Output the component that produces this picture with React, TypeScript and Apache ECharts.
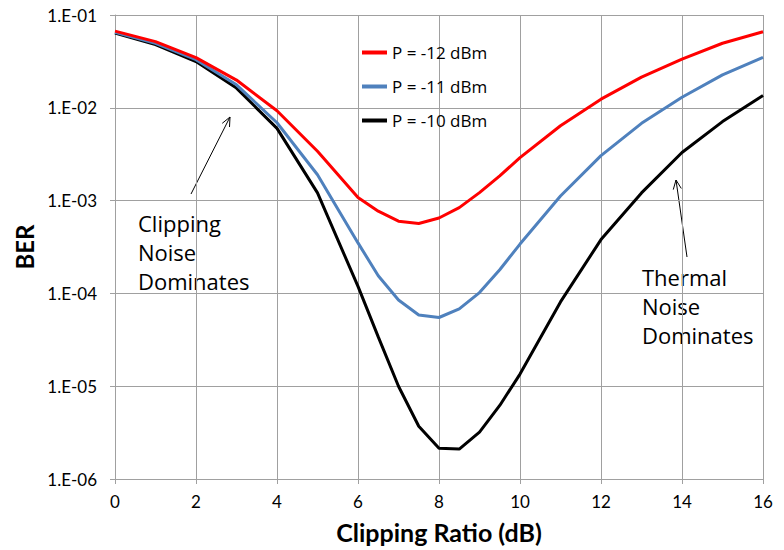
import React, { useEffect, useRef } from "react";
import * as echarts from "echarts";

const clippingRatio = [0, 1, 2, 3, 4, 5, 6, 6.5, 7, 7.5, 8, 8.5, 9, 9.5, 10, 11, 12, 13, 14, 15, 16];
const berM12 = [0.067, 0.0516, 0.0347, 0.0199, 0.0093, 0.0034, 0.00108, 7.7e-4, 6.0e-4, 5.66e-4, 6.5e-4, 8.4e-4, 1.22e-3, 1.85e-3, 2.9e-3, 6.4e-3, 0.0124, 0.0214, 0.0334, 0.0496, 0.066];
const berM11 = [0.065, 0.0495, 0.033, 0.0177, 0.0069, 0.0019, 3.5e-4, 1.55e-4, 8.5e-5, 5.85e-5, 5.5e-5, 6.8e-5, 1.02e-4, 1.8e-4, 3.4e-4, 1.12e-3, 3.05e-3, 6.8e-3, 0.013, 0.0226, 0.035];
const berM10 = [0.064, 0.048, 0.0315, 0.0163, 0.006, 0.00121, 1.19e-4, 3.4e-5, 1.0e-5, 3.7e-6, 2.14e-6, 2.1e-6, 3.2e-6, 6.2e-6, 1.35e-5, 8.1e-5, 3.8e-4, 1.21e-3, 3.3e-3, 7.1e-3, 0.0136];
const seriesNames = ["P = -12 dBm", "P = -11 dBm", "P = -10 dBm"];
const seriesColors = ["#ff0000", "#4f81bd", "#000000"];

function arrow(x1: number, y1: number, x2: number, y2: number) {
  const dx = x2 - x1, dy = y2 - y1;
  const len = Math.hypot(dx, dy);
  const ux = dx / len, uy = dy / len;
  const L = 10, th = (24 * Math.PI) / 180;
  const w = (s: number) => {
    const c = Math.cos(s * th), sn = Math.sin(s * th);
    const rx = ux * c - uy * sn, ry = ux * sn + uy * c;
    return [x2 - L * rx, y2 - L * ry];
  };
  return [
    { type: "line", shape: { x1, y1, x2, y2 }, style: { stroke: "#000", lineWidth: 1 }, silent: true },
    { type: "polyline", shape: { points: [w(1), [x2, y2], w(-1)] }, style: { stroke: "#000", lineWidth: 1, fill: null }, silent: true },
  ];
}

export default function App() {
  const ref = useRef<HTMLDivElement>(null);
  useEffect(() => {
    document.body.style.margin = "0";
    const chart = echarts.init(ref.current!, null, { renderer: "svg" });
    const data = [berM12, berM11, berM10];
    const annFont = { fontFamily: "Open Sans", fontSize: 22, fill: "#000", lineHeight: 29 };
    chart.setOption({
      animation: false,
      backgroundColor: "#fff",
      grid: { left: 115, right: 21, top: 15, bottom: 71 },
      legend: {
        orient: "vertical",
        left: 362,
        top: 43,
        padding: 0,
        itemWidth: 25,
        itemHeight: 4,
        icon: "rect",
        itemGap: 15,
        textStyle: { fontFamily: "Open Sans", fontSize: 17, color: "#000", lineHeight: 19 },
        data: seriesNames,
      },
      xAxis: {
        type: "value",
        min: 0,
        max: 16,
        interval: 2,
        name: "Clipping Ratio (dB)",
        nameLocation: "middle",
        nameGap: 40,
        nameTextStyle: { fontFamily: "Lato", fontWeight: "bold", fontSize: 25, color: "#000" },
        axisLine: { lineStyle: { color: "#a0a0a0" } },
        axisTick: { show: true, length: 5, lineStyle: { color: "#a0a0a0" } },
        axisLabel: { fontFamily: "Lato", fontSize: 17, color: "#000", margin: 14 },
        splitLine: { show: true, lineStyle: { color: "#a0a0a0" } },
      },
      yAxis: {
        type: "log",
        logBase: 10,
        min: 1e-6,
        max: 1e-1,
        name: "BER",
        nameLocation: "middle",
        nameGap: 71,
        nameRotate: 90,
        nameTextStyle: { fontFamily: "Lato", fontWeight: "bold", fontSize: 24, color: "#000" },
        axisLine: { show: true, lineStyle: { color: "#a0a0a0" } },
        axisTick: { show: true, length: 5, lineStyle: { color: "#a0a0a0" } },
        axisLabel: {
          fontFamily: "Lato",
          fontSize: 17,
          color: "#000",
          margin: 18,
          formatter: (v: number) => "1.E-0" + Math.round(-Math.log10(v)),
        },
        splitLine: { show: true, lineStyle: { color: "#a0a0a0" } },
      },
      series: data.map((d, i) => ({
        name: seriesNames[i],
        type: "line",
        data: clippingRatio.map((x, j) => [x, d[j]]),
        showSymbol: false,
        symbol: "none",
        lineStyle: { color: seriesColors[i], width: 3 },
        itemStyle: { color: seriesColors[i] },
        z: 3 - i,
      })),
      graphic: [
        { type: "text", left: 138, top: 208, style: { text: "Clipping\nNoise\nDominates", ...annFont }, silent: true },
        { type: "text", left: 642, top: 262, style: { text: "Thermal\nNoise\nDominates", ...annFont }, silent: true },
        ...arrow(191, 194, 230, 117),
        ...arrow(687, 257, 676, 180),
      ],
    });
    return () => chart.dispose();
  }, []);
  return <div ref={ref} style={{ width: 784, height: 550 }} />;
}
